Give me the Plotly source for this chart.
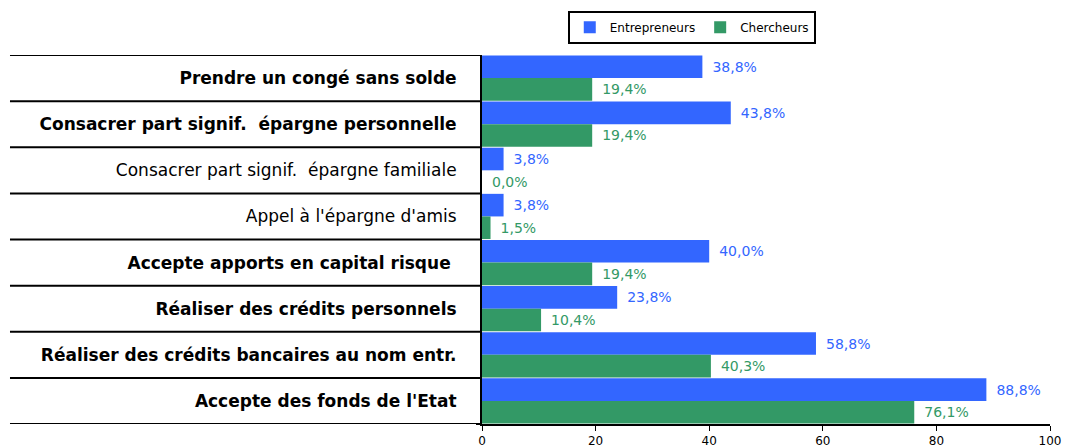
import plotly.graph_objects as go

# Categories from top to bottom, bold flag mirrors the original emphasis
CATEGORIES = [
    "Prendre un congé sans solde",
    "Consacrer part signif.\u00a0 épargne personnelle",
    "Consacrer part signif.\u00a0 épargne familiale",
    "Appel à l'épargne d'amis",
    "Accepte apports en capital risque\u00a0",
    "Réaliser des crédits personnels",
    "Réaliser des crédits bancaires au nom entr.",
    "Accepte des fonds de l'Etat",
]
BOLD = [True, True, False, False, True, True, True, True]
ENTREPRENEURS = [38.8, 43.8, 3.8, 3.8, 40.0, 23.8, 58.8, 88.8]
CHERCHEURS = [19.4, 19.4, 0.0, 1.5, 19.4, 10.4, 40.3, 76.1]
X_TICKS = [0, 20, 40, 60, 80, 100]

BLUE = "#3366FF"
GREEN = "#339966"
FONT = "DejaVu Sans"


def fmt(v):
    return "\u2002" + f"{v:.1f}".replace(".", ",") + "%"


pos = list(range(len(CATEGORIES)))
fig = go.Figure()
for name, vals, color in [("Entrepreneurs", ENTREPRENEURS, BLUE),
                          ("Chercheurs", CHERCHEURS, GREEN)]:
    fig.add_bar(
        x=vals, y=pos, orientation="h", name=name,
        marker=dict(color=color, line=dict(width=0)),
        text=[fmt(v) for v in vals], textposition="outside",
        textfont=dict(color=color, size=14, family=FONT),
        cliponaxis=False,
    )

ticktext = [f"<b>{c}</b>" if b else c for c, b in zip(CATEGORIES, BOLD)]

# separator lines between categories, reaching far left under the labels
for k in range(len(CATEGORIES) + 1):
    fig.add_shape(type="line", xref="paper", yref="y",
                  x0=-0.831, x1=0, y0=k - 0.5, y1=k - 0.5,
                  line=dict(color="black", width=2))

fig.update_layout(
    width=1066, height=446,
    margin=dict(l=482, r=16, t=55, b=22, autoexpand=False),
    plot_bgcolor="white", paper_bgcolor="white",
    barmode="group", bargap=0.02, bargroupgap=0,
    font=dict(family=FONT, size=17, color="black"),
    showlegend=True,
    legend=dict(orientation="h", x=0.151, y=1.12, xanchor="left", yanchor="top",
                bordercolor="black", borderwidth=2, itemwidth=30,
                font=dict(size=12, family=FONT)),
)
fig.update_xaxes(range=[0, 100], tickvals=X_TICKS, showgrid=False, zeroline=False,
                 showline=True, linecolor="black", linewidth=2,
                 ticks="outside", ticklen=5, tickcolor="black",
                 tickfont=dict(size=12), automargin=False)
fig.update_yaxes(range=[len(CATEGORIES) - 0.5, -0.5], tickvals=pos, ticktext=ticktext,
                 showgrid=False, zeroline=False, showline=True, linecolor="black",
                 linewidth=2, ticks="", ticklabelstandoff=20, automargin=False,
                 minor=dict(tickvals=[k - 0.5 for k in range(len(CATEGORIES) + 1)],
                            ticks="outside", ticklen=4, tickcolor="black"))

# the page body has a default 8px margin; drop it so the figure sits at 0,0
fig.write_html("out.html", config={"displayModeBar": False},
               post_script="document.body.style.margin='0';")
